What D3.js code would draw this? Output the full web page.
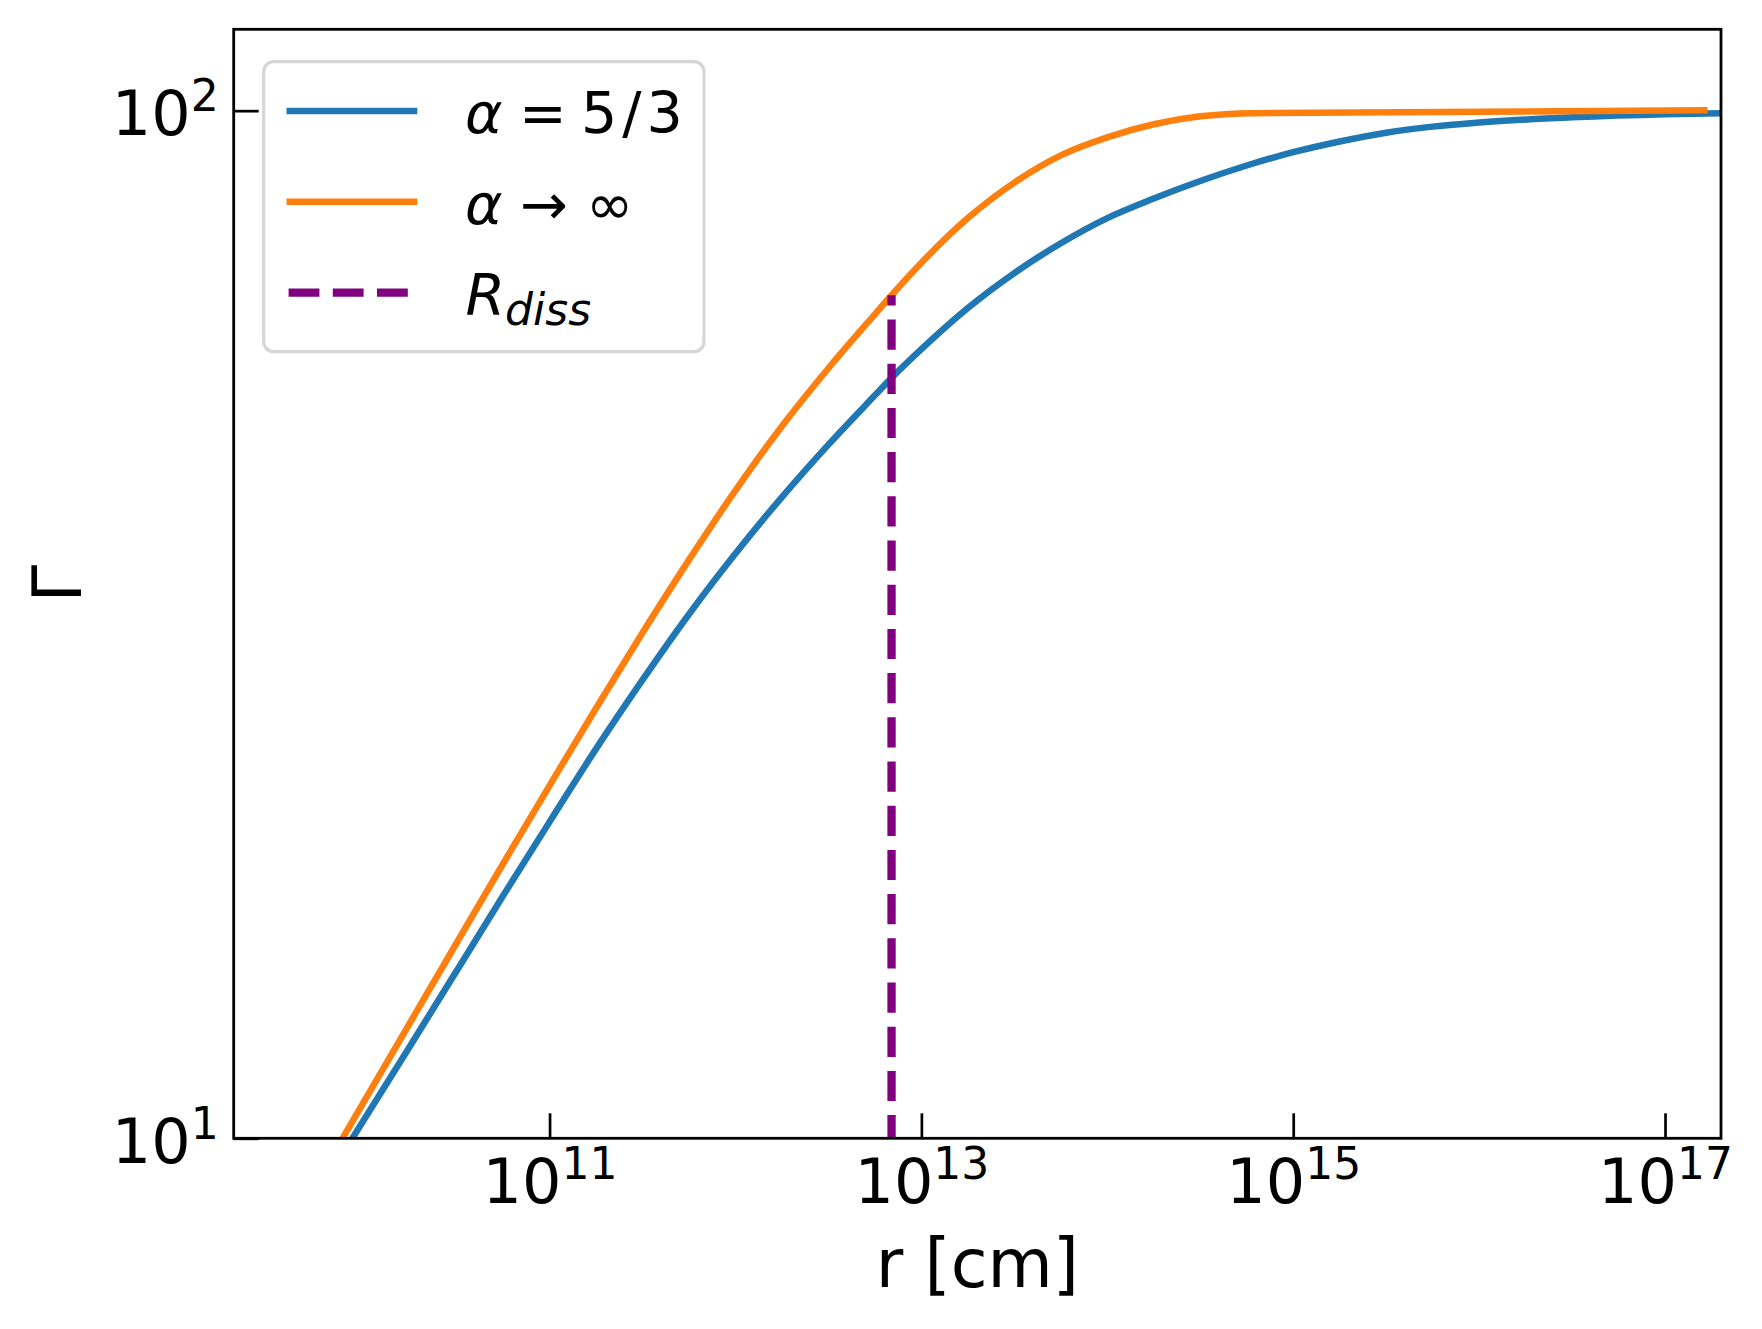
<!DOCTYPE html>
<html>
<head>
<meta charset="utf-8">
<script src="https://cdn.jsdelivr.net/npm/d3@7"></script>
<style>
  body { margin: 0; background: #fff; }
  svg { display: block; }
  text { font-family: "DejaVu Sans", sans-serif; fill: #000; }
</style>
</head>
<body>
<svg width="1762" height="1329"></svg>
<script>
// values (r in cm, Gamma)
var rFiveThirds = [8.82e9, 1.778e10, 3.162e10, 5.623e10, 1e11, 1.778e11, 3.162e11, 5.623e11,
    1e12, 1.778e12, 3.162e12, 5.623e12, 6.91e12, 1e13, 1.778e13, 3.162e13, 5.623e13,
    1e14, 1.778e14, 3.162e14, 5.623e14, 1e15, 1.778e15, 3.162e15, 5.623e15,
    1e16, 3.162e16, 1e17, 2e17];
var gammaFiveThirds = [10.04, 12.30, 14.55, 17.22, 20.32, 23.93, 27.93, 32.36,
    37.07, 42.07, 47.32, 52.84, 54.95, 58.61, 64.27, 69.50, 74.30,
    78.61, 82.13, 85.42, 88.44, 91.11, 93.33, 95.19, 96.49,
    97.39, 98.51, 99.20, 99.43];

var rInfinity = [7.80e9, 1.778e10, 3.162e10, 5.623e10, 1e11, 1.778e11, 3.162e11, 5.623e11,
    1e12, 1.778e12, 3.162e12, 5.623e12, 6.91e12, 1e13, 1.778e13, 3.162e13, 5.623e13,
    1e14, 1.778e14, 3.162e14, 6.03e14, 1.626e17];
var gammaInfinity = [10.04, 12.96, 15.49, 18.50, 22.04, 26.21, 31.04, 36.55,
    42.70, 49.31, 56.15, 63.37, 66.13, 71.12, 78.61, 85.11, 90.47,
    94.19, 97.00, 98.74, 99.45, 100.07];

var rDiss = 6.91e12;
var gammaDissRange = [10, 66.13];

var xTickExponents = [11, 13, 15, 17];
var yTickExponents = [1, 2];

var svg = d3.select('svg');

var padding = {t: 29.3, r: 41, b: 190.7, l: 233.7};
var svgWidth = +svg.attr('width');
var svgHeight = +svg.attr('height');
var chartWidth = svgWidth - padding.l - padding.r;
var chartHeight = svgHeight - padding.t - padding.b;

var chartG = svg.append('g')
    .attr('transform', 'translate(' + [padding.l, padding.t] + ')');

var xScale = d3.scaleLog().domain([2e9, 2e17]).range([0, chartWidth]);
var yScale = d3.scaleLog().domain([10, 120]).range([chartHeight, 0]);

chartG.append('clipPath')
    .attr('id', 'plot-clip')
    .append('rect')
    .attr('width', chartWidth)
    .attr('height', chartHeight);

function zip(rs, gs) {
    return rs.map(function(r, i) { return {r: r, g: gs[i]}; });
}

var line = d3.line()
    .x(function(d) { return xScale(d.r); })
    .y(function(d) { return yScale(d.g); })
    .curve(d3.curveMonotoneX);

var plotG = chartG.append('g').attr('clip-path', 'url(#plot-clip)');

plotG.append('path')
    .datum(zip(rFiveThirds, gammaFiveThirds))
    .attr('d', line)
    .attr('fill', 'none')
    .attr('stroke', '#1f77b4')
    .attr('stroke-width', 6.5)
    .attr('stroke-linecap', 'square');

plotG.append('path')
    .datum(zip(rInfinity, gammaInfinity))
    .attr('d', line)
    .attr('fill', 'none')
    .attr('stroke', '#ff7f0e')
    .attr('stroke-width', 6.5)
    .attr('stroke-linecap', 'square');

plotG.append('line')
    .attr('x1', xScale(rDiss))
    .attr('x2', xScale(rDiss))
    .attr('y1', yScale(gammaDissRange[0]))
    .attr('y2', yScale(gammaDissRange[1]))
    .attr('stroke', 'purple')
    .attr('stroke-width', 8.3)
    .attr('stroke-dasharray', '30.2,14')
    .attr('stroke-dashoffset', 7);

// axes, ticks pointing inwards
var xAxis = d3.axisBottom(xScale)
    .tickValues(xTickExponents.map(function(e) { return Math.pow(10, e); }))
    .tickSizeInner(-25)
    .tickSizeOuter(0)
    .tickFormat('');

var yAxis = d3.axisLeft(yScale)
    .tickValues(yTickExponents.map(function(e) { return Math.pow(10, e); }))
    .tickSizeInner(-25)
    .tickSizeOuter(0)
    .tickFormat('');

var xAxisG = chartG.append('g')
    .attr('transform', 'translate(0,' + chartHeight + ')')
    .call(xAxis);
var yAxisG = chartG.append('g').call(yAxis);

[xAxisG, yAxisG].forEach(function(g) {
    g.select('.domain').remove();
    g.selectAll('.tick line').attr('stroke', '#000').attr('stroke-width', 2.7);
});

xAxisG.selectAll('.tick').each(function(d) {
    var t = d3.select(this).append('text')
        .attr('y', 64.7)
        .attr('text-anchor', 'middle')
        .style('font-size', '62px');
    t.append('tspan').text('10');
    t.append('tspan').attr('dy', -24).style('font-size', '44px')
        .text(Math.round(Math.log10(d)));
});

yAxisG.selectAll('.tick').each(function(d) {
    var t = d3.select(this).append('text')
        .attr('x', -15)
        .attr('y', 24)
        .attr('text-anchor', 'end')
        .style('font-size', '62px');
    t.append('tspan').text('10');
    t.append('tspan').attr('dy', -24).style('font-size', '44px')
        .text(Math.round(Math.log10(d)));
});

// frame
chartG.append('rect')
    .attr('width', chartWidth)
    .attr('height', chartHeight)
    .attr('fill', 'none')
    .attr('stroke', '#000')
    .attr('stroke-width', 2.8);

// axis labels
svg.append('text')
    .attr('x', padding.l + chartWidth / 2)
    .attr('y', 1286.7)
    .attr('text-anchor', 'middle')
    .style('font-size', '67px')
    .text('r [cm]');

svg.append('text')
    .attr('transform', 'translate(80.7,' + (padding.t + chartHeight / 2) + ') rotate(-90)')
    .attr('text-anchor', 'middle')
    .style('font-size', '68px')
    .text('Γ');

// legend
var legendG = svg.append('g');

legendG.append('rect')
    .attr('x', 263.7)
    .attr('y', 61.7)
    .attr('width', 440.3)
    .attr('height', 290)
    .attr('rx', 10)
    .attr('fill', '#fff')
    .attr('stroke', '#d6d6d6')
    .attr('stroke-width', 3.3);

var legendRows = [111, 201.7, 292.7];
var legendColors = ['#1f77b4', '#ff7f0e', 'purple'];

legendRows.forEach(function(y, i) {
    var l = legendG.append('line')
        .attr('y1', y).attr('y2', y)
        .attr('stroke', legendColors[i]);
    if (i < 2) {
        l.attr('x1', 289.8).attr('x2', 414)
            .attr('stroke-width', 6.5)
            .attr('stroke-linecap', 'square');
    } else {
        l.attr('x1', 288.6).attr('x2', 420)
            .attr('stroke-width', 8.3)
            .attr('stroke-dasharray', '30.8,13.4');
    }
});

function legendText(y) {
    return legendG.append('text').attr('y', y + 22).style('font-size', '57px');
}

var t1 = legendText(legendRows[0]);
t1.append('tspan').attr('x', 465).style('font-style', 'italic').text('α');
t1.append('tspan').attr('x', 519).text('=');
t1.append('tspan').attr('x', 581).style('letter-spacing', '5px').text('5/3');

var t2 = legendText(legendRows[1]);
t2.append('tspan').attr('x', 465).style('font-style', 'italic').text('α');
t2.append('tspan').attr('x', 520).text('→');
t2.append('tspan').attr('x', 586).text('∞');

var t3 = legendText(legendRows[2]);
t3.append('tspan').attr('x', 465.5).style('font-style', 'italic').text('R');
t3.append('tspan').attr('dy', 10).style('font-style', 'italic').style('font-size', '44px').text('diss');
</script>
</body>
</html>
